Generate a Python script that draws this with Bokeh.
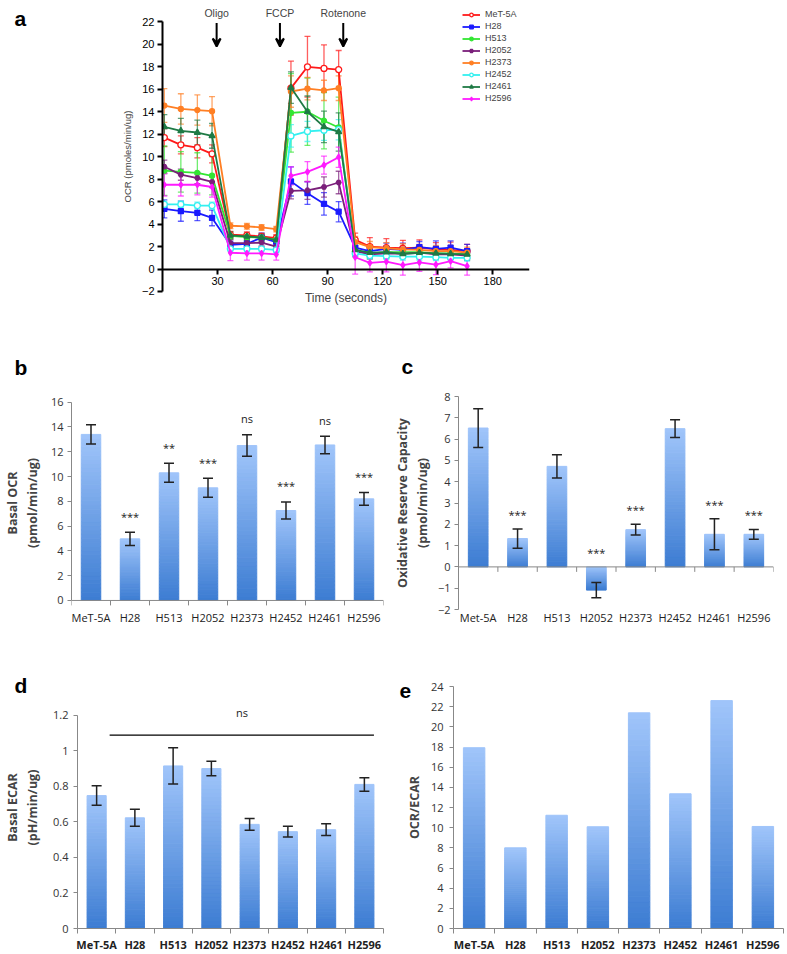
from bokeh.plotting import figure
from bokeh.layouts import column, row
from bokeh.models import FixedTicker, Legend, LegendItem, Arrow, VeeHead, Label, Range1d
from bokeh.core.properties import value
from bokeh.embed import file_html
from bokeh.resources import INLINE

# ---------------- Panel a data ----------------
time_a = [1, 10, 19, 27, 37, 46, 54, 62, 70, 79, 88, 96, 105, 113, 122, 131, 140, 149, 157, 166]
lines_a = ["MeT-5A", "H28", "H513", "H2052", "H2373", "H2452", "H2461", "H2596"]
ocr_met5a = [11.7, 11.05, 10.8, 10.25, 3.05, 3.0, 2.9, 2.75, 16.1, 18.0, 17.85, 17.75, 2.6, 2.0, 1.9, 1.85, 1.9, 1.75, 1.7, 1.6]
err_met5a = [0.8, 0.8, 0.9, 0.8, 0.3, 0.3, 0.3, 0.3, 2.4, 2.7, 2.1, 1.7, 0.6, 0.8, 0.8, 0.7, 0.7, 0.6, 0.7, 0.6]
ocr_h28 = [5.35, 5.15, 5.0, 4.55, 2.15, 2.25, 2.8, 2.4, 7.8, 6.75, 5.8, 5.1, 1.9, 1.6, 1.8, 1.7, 1.95, 1.8, 1.9, 1.6]
err_h28 = [0.8, 0.9, 0.7, 0.7, 0.3, 0.3, 0.4, 0.3, 1.3, 1.0, 1.0, 0.9, 0.6, 0.5, 0.5, 0.6, 0.5, 0.7, 0.6, 0.6]
ocr_h513 = [8.75, 8.65, 8.55, 8.3, 2.95, 2.85, 2.8, 2.6, 13.9, 14.0, 13.2, 12.6, 1.6, 1.4, 1.5, 1.5, 1.5, 1.4, 1.4, 1.3]
err_h513 = [2.2, 1.8, 1.8, 1.7, 0.3, 0.3, 0.3, 0.3, 3.5, 3.0, 2.5, 2.7, 0.5, 0.5, 0.5, 0.5, 0.5, 0.5, 0.5, 0.5]
ocr_h2052 = [9.1, 8.4, 8.1, 7.75, 2.3, 2.3, 2.35, 2.0, 6.95, 7.0, 7.3, 7.7, 1.6, 1.3, 1.4, 1.35, 1.45, 1.3, 1.3, 1.2]
err_h2052 = [0.6, 0.5, 0.5, 0.5, 0.3, 0.3, 0.3, 0.3, 0.7, 0.8, 0.9, 1.0, 0.4, 0.4, 0.4, 0.4, 0.4, 0.4, 0.4, 0.4]
ocr_h2373 = [14.55, 14.25, 14.15, 14.05, 3.85, 3.8, 3.7, 3.55, 15.8, 16.05, 15.9, 16.1, 2.4, 1.95, 1.85, 1.75, 1.7, 1.6, 1.6, 1.45]
err_h2373 = [1.5, 1.35, 1.35, 1.3, 0.25, 0.25, 0.25, 0.25, 1.4, 1.0, 0.9, 1.1, 0.5, 0.5, 0.5, 0.5, 0.5, 0.5, 0.5, 0.5]
ocr_h2452 = [5.75, 5.75, 5.65, 5.65, 1.8, 1.8, 1.8, 1.7, 11.85, 12.25, 12.35, 12.4, 1.4, 1.2, 1.15, 1.1, 1.1, 1.05, 1.0, 1.0]
err_h2452 = [0.3, 0.3, 0.3, 0.3, 0.2, 0.2, 0.2, 0.2, 1.0, 0.9, 0.9, 0.9, 0.3, 0.3, 0.3, 0.3, 0.3, 0.3, 0.3, 0.3]
ocr_h2461 = [12.65, 12.3, 12.15, 11.85, 3.0, 2.9, 2.8, 2.6, 16.15, 14.0, 12.65, 12.2, 1.7, 1.45, 1.5, 1.35, 1.45, 1.4, 1.35, 1.3]
err_h2461 = [1.1, 1.1, 1.1, 1.1, 0.3, 0.3, 0.3, 0.3, 1.4, 1.4, 1.4, 1.7, 0.4, 0.4, 0.4, 0.4, 0.4, 0.4, 0.4, 0.4]
ocr_h2596 = [7.5, 7.5, 7.5, 7.3, 1.45, 1.4, 1.4, 1.3, 8.3, 8.65, 9.25, 9.95, 1.05, 0.55, 0.65, 0.35, 0.6, 0.4, 0.7, 0.25]
err_h2596 = [1.0, 1.0, 0.9, 0.9, 0.7, 0.6, 0.6, 0.5, 0.8, 0.9, 0.8, 0.9, 1.5, 0.8, 0.9, 0.9, 0.8, 0.9, 0.6, 0.8]
injections = ["Oligo", "FCCP", "Rotenone"]
injection_time = [29.5, 64, 98.5]
yticks_a = [-2, 0, 2, 4, 6, 8, 10, 12, 14, 16, 18, 20, 22]
xticks_a = [30, 60, 90, 120, 150, 180]

# ---------------- Panels b-e data ----------------
cats = ["MeT-5A", "H28", "H513", "H2052", "H2373", "H2452", "H2461", "H2596"]
cats_c = ["Met-5A", "H28", "H513", "H2052", "H2373", "H2452", "H2461", "H2596"]
basal_ocr = [13.4, 4.97, 10.3, 9.09, 12.5, 7.26, 12.55, 8.2]
basal_ocr_err = [0.78, 0.54, 0.77, 0.77, 0.87, 0.69, 0.71, 0.51]
sig_b = ["", "***", "**", "***", "ns", "***", "ns", "***"]
reserve = [6.52, 1.33, 4.72, -1.09, 1.75, 6.49, 1.53, 1.53]
reserve_err = [0.91, 0.45, 0.55, 0.36, 0.25, 0.42, 0.73, 0.23]
sig_c = ["", "***", "", "***", "***", "", "***", "***"]
ecar = [0.748, 0.623, 0.915, 0.9, 0.586, 0.545, 0.556, 0.811]
ecar_err = [0.055, 0.048, 0.102, 0.041, 0.033, 0.03, 0.033, 0.038]
ocr_ecar = [17.93, 8.0, 11.23, 10.09, 21.39, 13.36, 22.6, 10.12]
yticks_b = [0, 2, 4, 6, 8, 10, 12, 14, 16]
yticks_c = [-2, -1, 0, 1, 2, 3, 4, 5, 6, 7, 8]
yticks_d = [0, 0.2, 0.4, 0.6, 0.8, 1, 1.2]
yticks_e = [0, 2, 4, 6, 8, 10, 12, 14, 16, 18, 20, 22, 24]
panel_letters = ["a", "b", "c", "d", "e"]

FA = "Liberation Sans"
FB = "Open Sans"
W, H = 787, 954


def base_fig(w, h, xr, yr, bl, br, bt, bb):
    p = figure(width=w, height=h, x_range=xr, y_range=yr, output_backend="svg",
               toolbar_location=None, min_border_left=bl, min_border_right=br,
               min_border_top=bt, min_border_bottom=bb)
    p.grid.visible = False
    p.outline_line_color = None
    return p


# ---------------- Panel a ----------------
pa = base_fig(W, 348, (0, 200), (-3.87, 23.9), 162, 258, 0, 36)
ya = pa.yaxis[0]
ya.bounds = (-2, 22)
ya.ticker = FixedTicker(ticks=yticks_a)
ya.axis_label = "OCR (pmoles/min/ug)"
xa = pa.xaxis[0]
xa.fixed_location = 0
xa.bounds = (0, 200)
xa.ticker = FixedTicker(ticks=xticks_a)
xa.axis_label = "Time (seconds)"
for ax in (xa, ya):
    ax.axis_line_width = 2
    ax.axis_line_color = "black"
    ax.major_tick_line_width = 2
    ax.major_tick_out = 5
    ax.major_tick_in = 0
    ax.minor_tick_line_color = None
    ax.major_label_text_font = FA
    ax.major_label_text_font_size = "11px"
    ax.major_label_text_color = "black"
    ax.axis_label_text_font = FA
    ax.axis_label_text_font_style = "normal"
    ax.major_label_standoff = 3
ya.axis_label_text_font_size = "9.5px"
ya.axis_label_standoff = 6
xa.axis_label_text_font_size = "12px"
xa.axis_label_standoff = 2

series = [
    (ocr_met5a, err_met5a, "#FF1A1A", "circle", "white", 6),
    (ocr_h28, err_h28, "#1A1AFF", "square", None, 5),
    (ocr_h513, err_h513, "#33E633", "circle", None, 5),
    (ocr_h2052, err_h2052, "#7A1F7A", "hex", None, 5),
    (ocr_h2373, err_h2373, "#FF7F24", "circle", None, 5),
    (ocr_h2452, err_h2452, "#33F0F0", "circle", "white", 6),
    (ocr_h2461, err_h2461, "#1F7A45", "triangle", None, 6),
    (ocr_h2596, err_h2596, "#FF1AFF", "diamond", None, 6),
]
items = []
for name, (ys, es, col, mk, fill, sz) in zip(lines_a, series):
    lo = [y - e for y, e in zip(ys, es)]
    hi = [y + e for y, e in zip(ys, es)]
    pa.segment(x0=time_a, y0=lo, x1=time_a, y1=hi, line_color=col, line_width=1.3, line_alpha=0.7)
    pa.scatter(x=time_a + time_a, y=lo + hi, marker="dash", size=6, line_color=col,
               line_width=1.3, line_alpha=0.7)
for name, (ys, es, col, mk, fill, sz) in zip(lines_a, series):
    lr = pa.line(x=time_a, y=ys, line_color=col, line_width=1.8)
    sr = pa.scatter(x=time_a, y=ys, marker=mk, size=sz, line_color=col, line_width=1.3,
                    fill_color=fill if fill else col)
    items.append(LegendItem(label=name, renderers=[lr, sr]))
leg = Legend(items=items, location=(300, 209), border_line_color=None, background_fill_alpha=0,
             label_text_font=FA, label_text_font_size="9px", glyph_width=18, glyph_height=9,
             label_height=9, spacing=2, padding=0, margin=0, label_standoff=5)
pa.add_layout(leg)
for t, name in zip(injection_time, injections):
    pa.add_layout(Arrow(end=VeeHead(size=8, line_width=2, line_color="black"),
                        x_start=t, y_start=21.9, x_end=t, y_end=19.8, line_width=2))
    pa.add_layout(Label(x=t, y=22.75, text=name, text_font=FA, text_font_size="10.5px",
                        text_align="center", text_baseline="middle"))


# ---------------- bar helpers ----------------
def hexcol(f):
    top = (160, 197, 250)
    bot = (60, 124, 210)
    c = [round(b + (t - b) * f) for t, b in zip(top, bot)]
    return "#%02x%02x%02x" % tuple(c)


def grad_bars(p, vals, width=0.5, n=40):
    xs, bs, ts, cs = [], [], [], []
    for i, v in enumerate(vals):
        for k in range(n):
            xs.append(i + 1)
            bs.append(v * k / n)
            ts.append(v * (k + 1) / n)
            f = (k + 0.5) / n
            cs.append(hexcol(f if v >= 0 else 1 - f))
    p.vbar(x=xs, bottom=bs, top=ts, width=width, fill_color=cs, line_color=cs, line_width=1)


def err_bars(p, vals, errs, cap=10):
    xs = list(range(1, len(vals) + 1))
    lo = [v - e for v, e in zip(vals, errs)]
    hi = [v + e for v, e in zip(vals, errs)]
    p.segment(x0=xs, y0=lo, x1=xs, y1=hi, line_color="#222222", line_width=1.5)
    p.scatter(x=xs + xs, y=lo + hi, marker="dash", size=cap, line_color="#222222", line_width=1.5)


def zero_line(p, n, tick_len):
    # category axis drawn at value 0, with tick marks between categories
    bnd = [i + 0.5 for i in range(n + 1)]
    p.segment(x0=[0.5], y0=[0], x1=[n + 0.5], y1=[0], line_color="#888888", line_width=1)
    p.segment(x0=bnd, y0=[0] * len(bnd), x1=bnd, y1=[-tick_len] * len(bnd),
              line_color="#888888", line_width=1)


def style_bar(p, names, yticks, ylabel, bold_x, axis_at_bottom, lab_standoff, tick_standoff,
              ystandoff, ylabel_size="12.5px"):
    xa_ = p.xaxis[0]
    xa_.ticker = FixedTicker(ticks=list(range(1, len(names) + 1)),
                             minor_ticks=[i + 0.5 for i in range(len(names) + 1)])
    xa_.major_label_overrides = {i + 1: n for i, n in enumerate(names)}
    xa_.major_tick_out = 0
    xa_.major_tick_in = 0
    xa_.minor_tick_in = 0
    if axis_at_bottom:
        xa_.minor_tick_out = 5
        xa_.minor_tick_line_color = "#888888"
        xa_.axis_line_color = "#888888"
    else:
        xa_.minor_tick_out = 0
        xa_.minor_tick_line_color = None
        xa_.axis_line_color = None
    xa_.major_label_text_font = FB
    xa_.major_label_text_font_size = "11px"
    xa_.major_label_text_color = "#222222"
    xa_.major_label_text_font_style = "bold" if bold_x else "normal"
    xa_.major_label_standoff = lab_standoff
    ya_ = p.yaxis[0]
    ya_.ticker = FixedTicker(ticks=yticks)
    ya_.minor_tick_line_color = None
    ya_.major_tick_out = 4
    ya_.major_tick_in = 0
    ya_.major_tick_line_color = "#888888"
    ya_.axis_line_color = "#888888"
    ya_.major_label_text_font = FB
    ya_.major_label_text_font_size = "11px"
    ya_.major_label_text_color = "#333333"
    ya_.major_label_standoff = tick_standoff
    ya_.axis_label = ylabel
    ya_.axis_label_text_font = FB
    ya_.axis_label_text_font_style = "bold"
    ya_.axis_label_text_font_size = ylabel_size
    ya_.axis_label_standoff = ystandoff


def sig_text(p, xs, ys, texts):
    p.text(x=xs, y=ys, text=texts, text_font=value(FB), text_font_size="11px",
           text_align="center", text_baseline="middle", text_color="#222222")


# ---------------- Panel b ----------------
pb = base_fig(390, 300, (0.5, 8.5), (-0.73, 16.46), 61, 7, 48, 39)
grad_bars(pb, basal_ocr)
err_bars(pb, basal_ocr, basal_ocr_err)
zero_line(pb, 8, 0.4)
sig_text(pb, list(range(1, 9)), [v + e + 1.3 for v, e in zip(basal_ocr, basal_ocr_err)], sig_b)
style_bar(pb, cats, yticks_b, "Basal OCR\n(pmol/min/ug)", False, False, 0, 4, 7)
pb.yaxis[0].bounds = (0, 16)

# ---------------- Panel c ----------------
pc = base_fig(397, 300, (0.5, 8.5), (-2, 8), 61, 14, 48, 39)
grad_bars(pc, reserve)
err_bars(pc, reserve, reserve_err)
zero_line(pc, 8, 0.234)
sig_text(pc, list(range(1, 9)), [max(v + e, 0) + 0.68 for v, e in zip(reserve, reserve_err)], sig_c)
style_bar(pc, cats_c, yticks_c, "Oxidative Reserve Capacity\n(pmol/min/ug)", False, False, 0, 4, 4)

# ---------------- Panel d ----------------
pd_ = base_fig(390, 306, (0.5, 8.5), (0, 1.362), 69, 7, 38, 24)
grad_bars(pd_, ecar)
err_bars(pd_, ecar, ecar_err)
style_bar(pd_, cats, yticks_d, "Basal ECAR\n(pH/min/ug)", True, True, 3, 5, 9)
pd_.yaxis[0].bounds = (0, 1.2)
pd_.segment(x0=[1.34], y0=[1.088], x1=[8.25], y1=[1.088], line_color="black", line_width=1.3)
sig_text(pd_, [4.8], [1.215], ["ns"])

# ---------------- Panel e ----------------
pe = base_fig(397, 306, (0.5, 8.5), (0, 24), 63, 4, 38, 24)
grad_bars(pe, ocr_ecar, width=0.52)
style_bar(pe, cats, yticks_e, "OCR/ECAR", True, True, 3, 6, 5)

# ---------------- panel letters (transparent overlay in page pixels) ----------------
ov = figure(width=W, height=H, x_range=Range1d(0, W), y_range=Range1d(H, 0),
            output_backend="svg", toolbar_location=None, x_axis_type=None, y_axis_type=None,
            min_border=0, min_border_left=0, min_border_right=0, min_border_top=0,
            min_border_bottom=0)
ov.grid.visible = False
ov.outline_line_color = None
ov.background_fill_alpha = 0
ov.border_fill_alpha = 0
ov.text(x=[14, 14, 401, 14, 399], y=[18, 367, 366, 685, 690], text=panel_letters,
        text_font=value(FA), text_font_style="bold", text_font_size="21px",
        text_align="left", text_baseline="alphabetic", text_color="black")
ov_row = row(ov)
ov_row.margin = (-H, 0, 0, 0)

layout = column(pa, row(pb, pc), row(pd_, pe), ov_row)
open("out.html", "w").write(file_html(layout, INLINE))
